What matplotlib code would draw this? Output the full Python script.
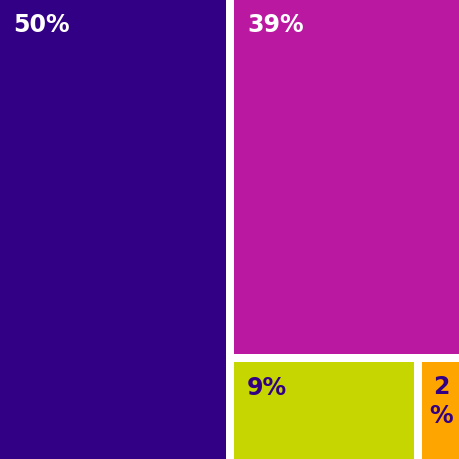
import matplotlib.pyplot as plt
from matplotlib.patches import Rectangle

labels = ["50%", "39%", "9%", "2\n%"]
values = [50, 39, 9, 2]
colors = ["#320085", "#BA18A0", "#C5D600", "#FFA500"]
text_colors = ["white", "white", "#320085", "#320085"]

W = H = 460
GAP = 4

# simple slice layout: first value takes a full-height column,
# second fills the top of the rest, last two share the bottom row
total = sum(values)
w0 = W * values[0] / total
rest = total - values[0]
h1 = H * values[1] / rest
bottom = values[2] + values[3]
w2 = (W - w0) * values[2] / bottom
rects = [
    (0, 0, w0, H),
    (w0, 0, W - w0, h1),
    (w0, h1, w2, H - h1),
    (w0 + w2, h1, W - w0 - w2, H - h1),
]

fig = plt.figure(figsize=(4.6, 4.6), dpi=100)
ax = fig.add_axes([0, 0, 1, 1])
ax.set_xlim(0, W)
ax.set_ylim(H, 0)
ax.axis("off")

for (x, y, w, h), lab, c, tc in zip(rects, labels, colors, text_colors):
    x0 = x + (GAP if x > 0 else 0)
    y0 = y + (GAP if y > 0 else 0)
    x1 = x + w - (GAP if x + w < W - 0.5 else 0)
    y1 = y + h - (GAP if y + h < H - 0.5 else 0)
    ax.add_patch(Rectangle((x0, y0), x1 - x0, y1 - y0, color=c, lw=0))
    if "\n" in lab:
        ax.text((x0 + x1) / 2, y0 + 12, lab, ha="center", va="top",
                color=tc, fontsize=17, fontweight="bold", linespacing=1.3)
    else:
        ax.text(x0 + 13, y0 + 13, lab, ha="left", va="top",
                color=tc, fontsize=17, fontweight="bold")

fig.savefig("out.png", dpi=100)
